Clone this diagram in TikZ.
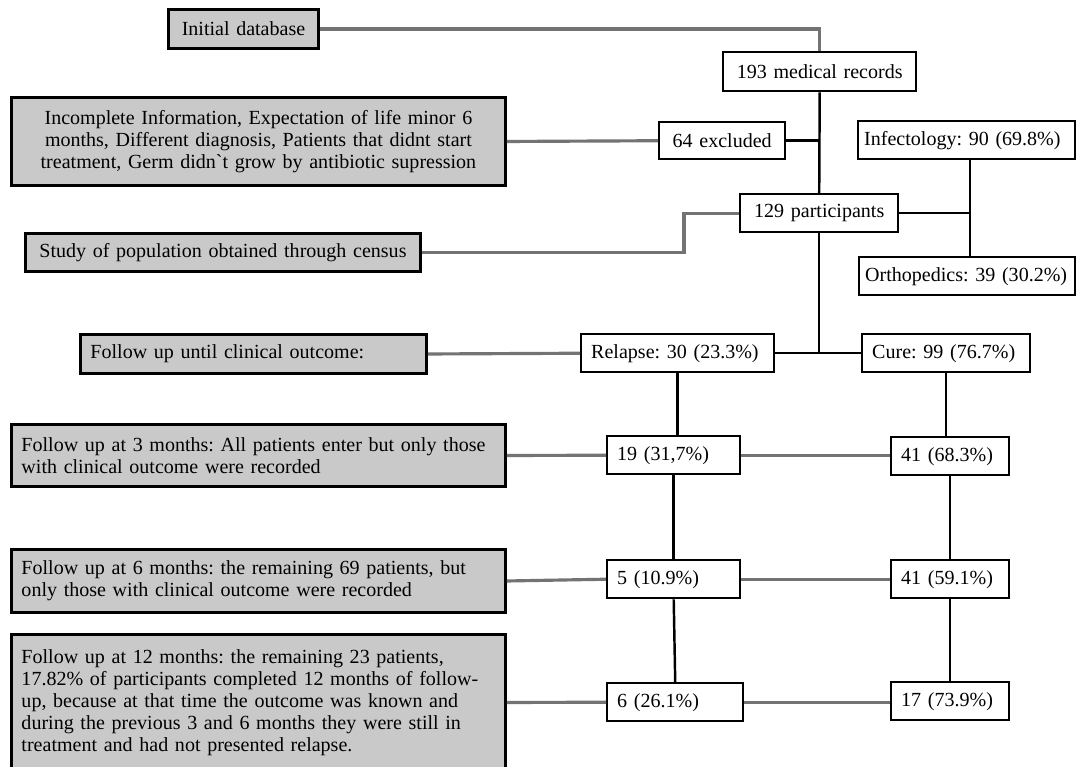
\documentclass[tikz,border=0pt]{standalone}
\usepackage{fontspec}
\setmainfont{Liberation Serif}
\usepackage{tikz}
\usetikzlibrary{positioning, calc}
\tikzset{
  txt/.style={font=\fontsize{11.4}{12.5}\selectfont\frenchspacing,inner xsep=.2cm,inner ysep=0pt,anchor=north west},
  stage/.style={txt,draw=black,line width=1.7pt,fill=black!21,align=left},
  count/.style={txt,draw=black,line width=1.4pt,fill=white,align=left},
  link/.style={black,line width=1.4pt},
  notelink/.style={draw=black!55,line width=1.8pt},
}
\begin{document}
\begin{tikzpicture}[x=0.02cm,y=-0.02cm]
  \useasboundingbox (0,0) rectangle (1076,767);
  \clip (0,0) rectangle (1076,767);
  % left column: grey stage notes
  \node[stage,align=center,text width=2.6cm,minimum height=.78cm] (INIT) at (167,8) {Initial database};
  \node[stage,align=center,text width=9.48cm,minimum height=1.76cm] (EXCLINFO) at (10,96)
    {Incomplete Information, Expectation of life minor 6\\ months, Different diagnosis, Patients that didnt start\\ treatment, Germ didn\textasciigrave t grow by antibiotic supression};
  \node[stage,align=center,text width=7.5cm,minimum height=.76cm] (CENSUS) at (24,232) {Study of population obtained through census};
  \node[stage,text width=6.52cm,minimum height=.78cm] (FOLLOW) at (79,333) {Follow up until clinical outcome:};
  \node[stage,text width=9.48cm,minimum height=1.24cm] (M3) at (10,423)
    {Follow up at 3 months: All patients enter but only those\\ with clinical outcome were recorded};
  \node[stage,text width=9.48cm,minimum height=1.26cm] (M6) at (10,548)
    {Follow up at 6 months: the remaining 69 patients, but\\ only those with clinical outcome were recorded};
  \node[stage,text width=9.48cm,minimum height=2.72cm] (M12) at (10,633)
    {Follow up at 12 months: the remaining 23 patients,\\ 17.82\% of participants completed 12 months of follow-\\ up, because at that time the outcome was known and\\ during the previous 3 and 6 months they were still in\\ treatment and had not presented relapse.};
  % right part: counts
  \node[count,align=center,text width=3.46cm,minimum height=.78cm] (RECORDS) at (722,51) {193 medical records};
  \node[count,align=center,text width=2.12cm,minimum height=.74cm] (EXCL) at (658,121) {64 excluded};
  \node[count,inner xsep=.12cm,text width=4.1cm,minimum height=.76cm] (INFECT) at (857,120) {Infectology: 90 (69.8\%)};
  \node[count,align=center,text width=2.76cm,minimum height=.76cm] (PART) at (739,193) {129 participants};
  \node[count,inner xsep=.12cm,text width=4.08cm,minimum height=.76cm] (ORTHO) at (858,256) {Orthopedics: 39 (30.2\%)};
  \node[count,text width=3.46cm,minimum height=.76cm] (RELAPSE) at (580,333) {Relapse: 30 (23.3\%)};
  \node[count,text width=2.96cm,minimum height=.76cm] (CURE) at (861,333) {Cure: 99 (76.7\%)};
  \node[count,text width=2.26cm,minimum height=.76cm] (R3) at (606,435) {19 (31,7\%)};
  \node[count,text width=1.96cm,minimum height=.76cm] (C3) at (890,436) {41 (68.3\%)};
  \node[count,text width=2.26cm,minimum height=.76cm] (R6) at (606,559) {5 (10.9\%)};
  \node[count,text width=1.96cm,minimum height=.76cm] (C6) at (890,559) {41 (59.1\%)};
  \node[count,text width=2.32cm,minimum height=.76cm] (R12) at (606,682) {6 (26.1\%)};
  \node[count,text width=1.96cm,minimum height=.76cm] (C12) at (890,681) {17 (73.9\%)};
  \coordinate (SPLIT) at (970,0);
  % connectors
  \draw[notelink] (INIT.east) -| (RECORDS.north);
  \draw[notelink] (EXCLINFO.east) -- (EXCL.west);
  \draw[notelink] (CENSUS.east) -| ([xshift=-1.1cm]PART.west) -- (PART.west);
  \draw[notelink] (FOLLOW.east) -- (RELAPSE.west);
  \draw[link] (RECORDS.south) -- (PART.north);
  \draw[link] (EXCL.east) -- (EXCL.east -| RECORDS.south);
  \draw[link] (INFECT.south -| SPLIT) -- (ORTHO.north -| SPLIT);
  \draw[link] (PART.east) -- (PART.east -| SPLIT);
  \draw[link] (PART.south) -- (PART.south |- RELAPSE.east);
  \draw[link] (RELAPSE.east) -- (CURE.west);
  \draw[link] (RELAPSE.south) -- (RELAPSE.south |- R3.north);
  \draw[link] (CURE.south) -- (CURE.south |- C3.north);
  \draw[link] (R3.south) -- (R6.north);
  \draw[link] (R6.south) -- (R12.north);
  \draw[link] (C3.south) -- (C6.north);
  \draw[link] (C6.south) -- (C12.north);
  \draw[notelink] (M3.east) -- (R3.west);
  \draw[notelink] (R3.east) -- (R3.east -| C3.west);
  \draw[notelink] (M6.east) -- (R6.west);
  \draw[notelink] (R6.east) -- (C6.west);
  \draw[notelink] (M12.east) -- (R12.west);
  \draw[notelink] (R12.east) -- (R12.east -| C12.west);
\end{tikzpicture}
\end{document}
